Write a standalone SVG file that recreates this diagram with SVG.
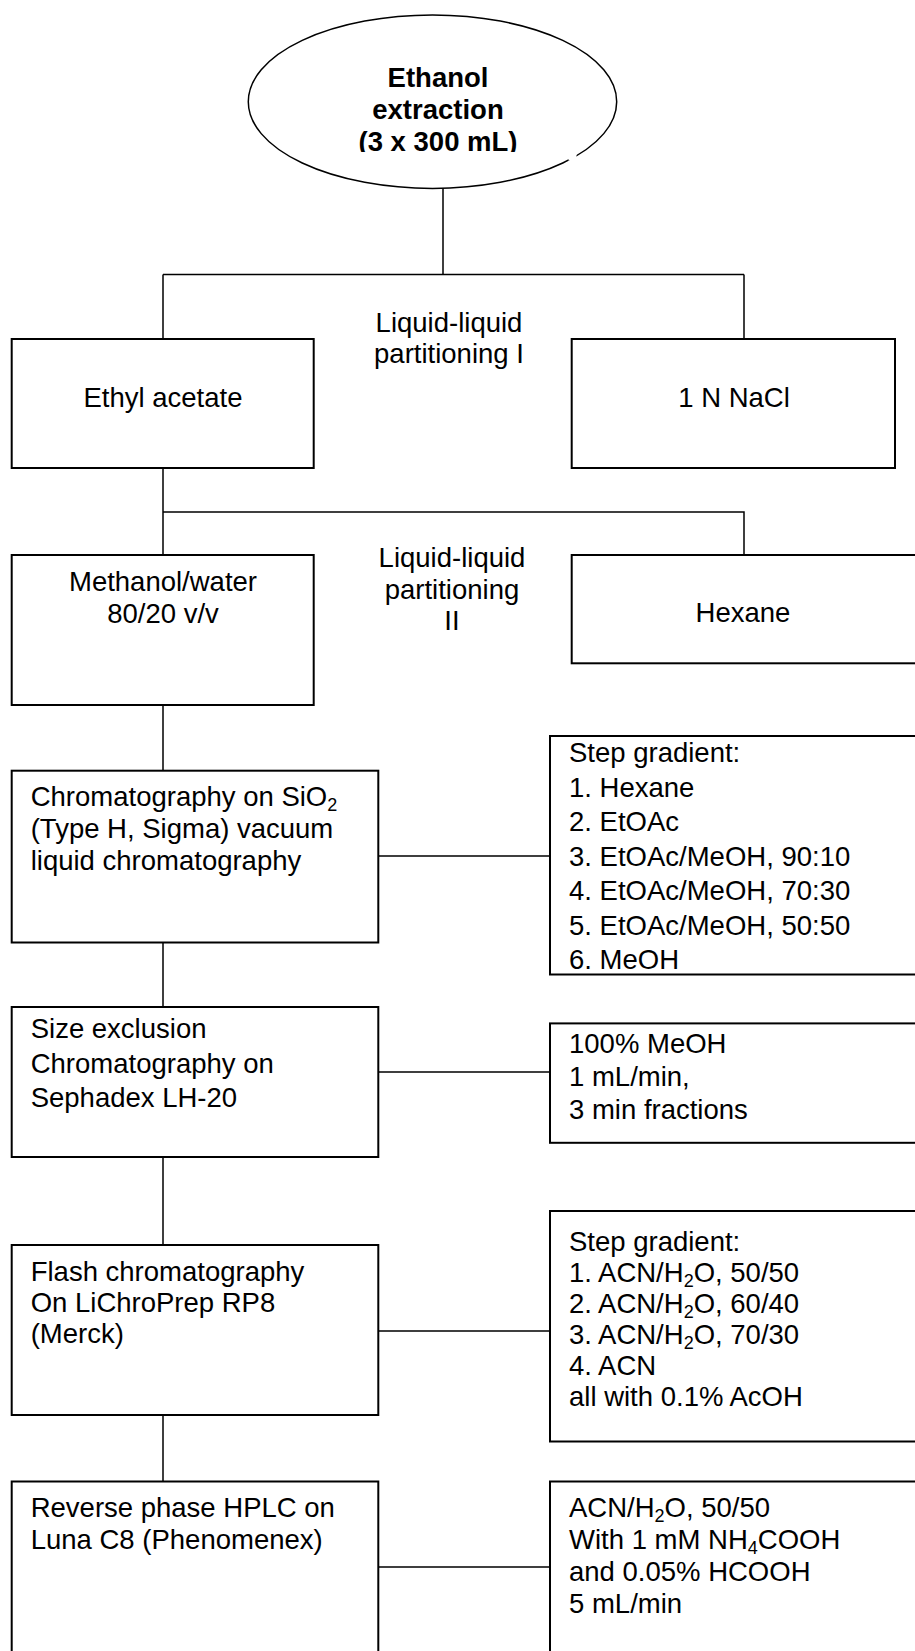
<svg xmlns="http://www.w3.org/2000/svg" width="915" height="1651" viewBox="0 0 915 1651">
<style>
.box{fill:#fff;stroke:#000;stroke-width:2}
.ln{fill:none;stroke:#000;stroke-width:1.5}
.t{font-family:"Liberation Sans",Arial,sans-serif;font-size:27.5px;fill:#000}
.c{text-anchor:middle}
.b{font-weight:bold}
.s{font-size:18px}
</style>
<defs>
<clipPath id="clipTop"><rect x="0" y="0" width="915" height="152"/></clipPath>
</defs>
<g id="connectors">
<path class="ln" d="M443 188 V274.5 M163 274.5 H744 M163 274.5 V339 M744 274.5 V339"/>
<path class="ln" d="M163 468 V555 M163 512 H744 V555"/>
<path class="ln" d="M163 705 V770 M163 942.5 V1007 M163 1157 V1245 M163 1415 V1481.5"/>
<path class="ln" d="M378 856 H550 M378 1072 H550 M378 1331 H550 M378 1567 H550"/>
</g>
<g id="n-ethanol">
<ellipse cx="432.5" cy="101.7" rx="184.2" ry="86.7" fill="#fff" stroke="#000" stroke-width="1.5"/>
<rect x="568.5" y="153.5" width="8" height="7" fill="#fff"/>
<g clip-path="url(#clipTop)">
<text class="t c b" x="438" y="87">Ethanol</text>
<text class="t c b" x="438" y="119">extraction</text>
<text class="t c b" x="438" y="151">(3 x 300 mL)</text>
</g>
</g>
<g id="n-part1">
<text class="t c" x="449" y="332">Liquid-liquid</text>
<text class="t c" x="449" y="363">partitioning I</text>
</g>
<g id="n-ethyl">
<rect class="box" x="11.7" y="339" width="302" height="129"/>
<text class="t c" x="163" y="407">Ethyl acetate</text>
</g>
<g id="n-nacl">
<rect class="box" x="571.7" y="339" width="323.3" height="129"/>
<text class="t c" x="734" y="407">1 N NaCl</text>
</g>
<g id="n-part2">
<text class="t c" x="452" y="567">Liquid-liquid</text>
<text class="t c" x="452" y="599">partitioning</text>
<text class="t c" x="452" y="630">II</text>
</g>
<g id="n-methanol">
<rect class="box" x="11.7" y="555" width="302" height="150"/>
<text class="t c" x="163" y="591">Methanol/water</text>
<text class="t c" x="163" y="623">80/20 v/v</text>
</g>
<g id="n-hexane">
<rect class="box" x="571.7" y="555" width="350" height="108.3"/>
<text class="t c" x="743" y="622">Hexane</text>
</g>
<g id="n-sio2">
<rect class="box" x="11.7" y="770.7" width="366.6" height="171.8"/>
<text class="t" x="30.7" y="806">Chromatography on SiO<tspan class="s" baseline-shift="-5">2</tspan></text>
<text class="t" x="30.7" y="838">(Type H, Sigma) vacuum</text>
<text class="t" x="30.7" y="870">liquid chromatography</text>
</g>
<g id="n-step1">
<rect class="box" x="550" y="736" width="370" height="238.5"/>
<text class="t" x="569" y="762">Step gradient:</text>
<text class="t" x="569" y="796.5">1. Hexane</text>
<text class="t" x="569" y="831">2. EtOAc</text>
<text class="t" x="569" y="865.5">3. EtOAc/MeOH, 90:10</text>
<text class="t" x="569" y="900">4. EtOAc/MeOH, 70:30</text>
<text class="t" x="569" y="934.5">5. EtOAc/MeOH, 50:50</text>
<text class="t" x="569" y="969">6. MeOH</text>
</g>
<g id="n-sizeexcl">
<rect class="box" x="11.7" y="1007" width="366.6" height="150"/>
<text class="t" x="30.7" y="1038">Size exclusion</text>
<text class="t" x="30.7" y="1073">Chromatography on</text>
<text class="t" x="30.7" y="1107">Sephadex LH-20</text>
</g>
<g id="n-meoh">
<rect class="box" x="550" y="1023.4" width="370" height="119.4"/>
<text class="t" x="569" y="1053">100% MeOH</text>
<text class="t" x="569" y="1086">1 mL/min,</text>
<text class="t" x="569" y="1119">3 min fractions</text>
</g>
<g id="n-flash">
<rect class="box" x="11.7" y="1245" width="366.6" height="170"/>
<text class="t" x="30.7" y="1281">Flash chromatography</text>
<text class="t" x="30.7" y="1312">On LiChroPrep RP8</text>
<text class="t" x="30.7" y="1343">(Merck)</text>
</g>
<g id="n-step2">
<rect class="box" x="550" y="1211" width="370" height="230.5"/>
<text class="t" x="569" y="1251">Step gradient:</text>
<text class="t" x="569" y="1282">1. ACN/H<tspan class="s" baseline-shift="-5">2</tspan>O, 50/50</text>
<text class="t" x="569" y="1313">2. ACN/H<tspan class="s" baseline-shift="-5">2</tspan>O, 60/40</text>
<text class="t" x="569" y="1344">3. ACN/H<tspan class="s" baseline-shift="-5">2</tspan>O, 70/30</text>
<text class="t" x="569" y="1375">4. ACN</text>
<text class="t" x="569" y="1406">all with 0.1% AcOH</text>
</g>
<g id="n-hplc">
<rect class="box" x="11.7" y="1481.5" width="366.6" height="200"/>
<text class="t" x="30.7" y="1517">Reverse phase HPLC on</text>
<text class="t" x="30.7" y="1549">Luna C8 (Phenomenex)</text>
</g>
<g id="n-acn">
<rect class="box" x="550" y="1481.5" width="370" height="200"/>
<text class="t" x="569" y="1517">ACN/H<tspan class="s" baseline-shift="-5">2</tspan>O, 50/50</text>
<text class="t" x="569" y="1549">With 1 mM NH<tspan class="s" baseline-shift="-5">4</tspan>COOH</text>
<text class="t" x="569" y="1581">and 0.05% HCOOH</text>
<text class="t" x="569" y="1613">5 mL/min</text>
</g>
</svg>
